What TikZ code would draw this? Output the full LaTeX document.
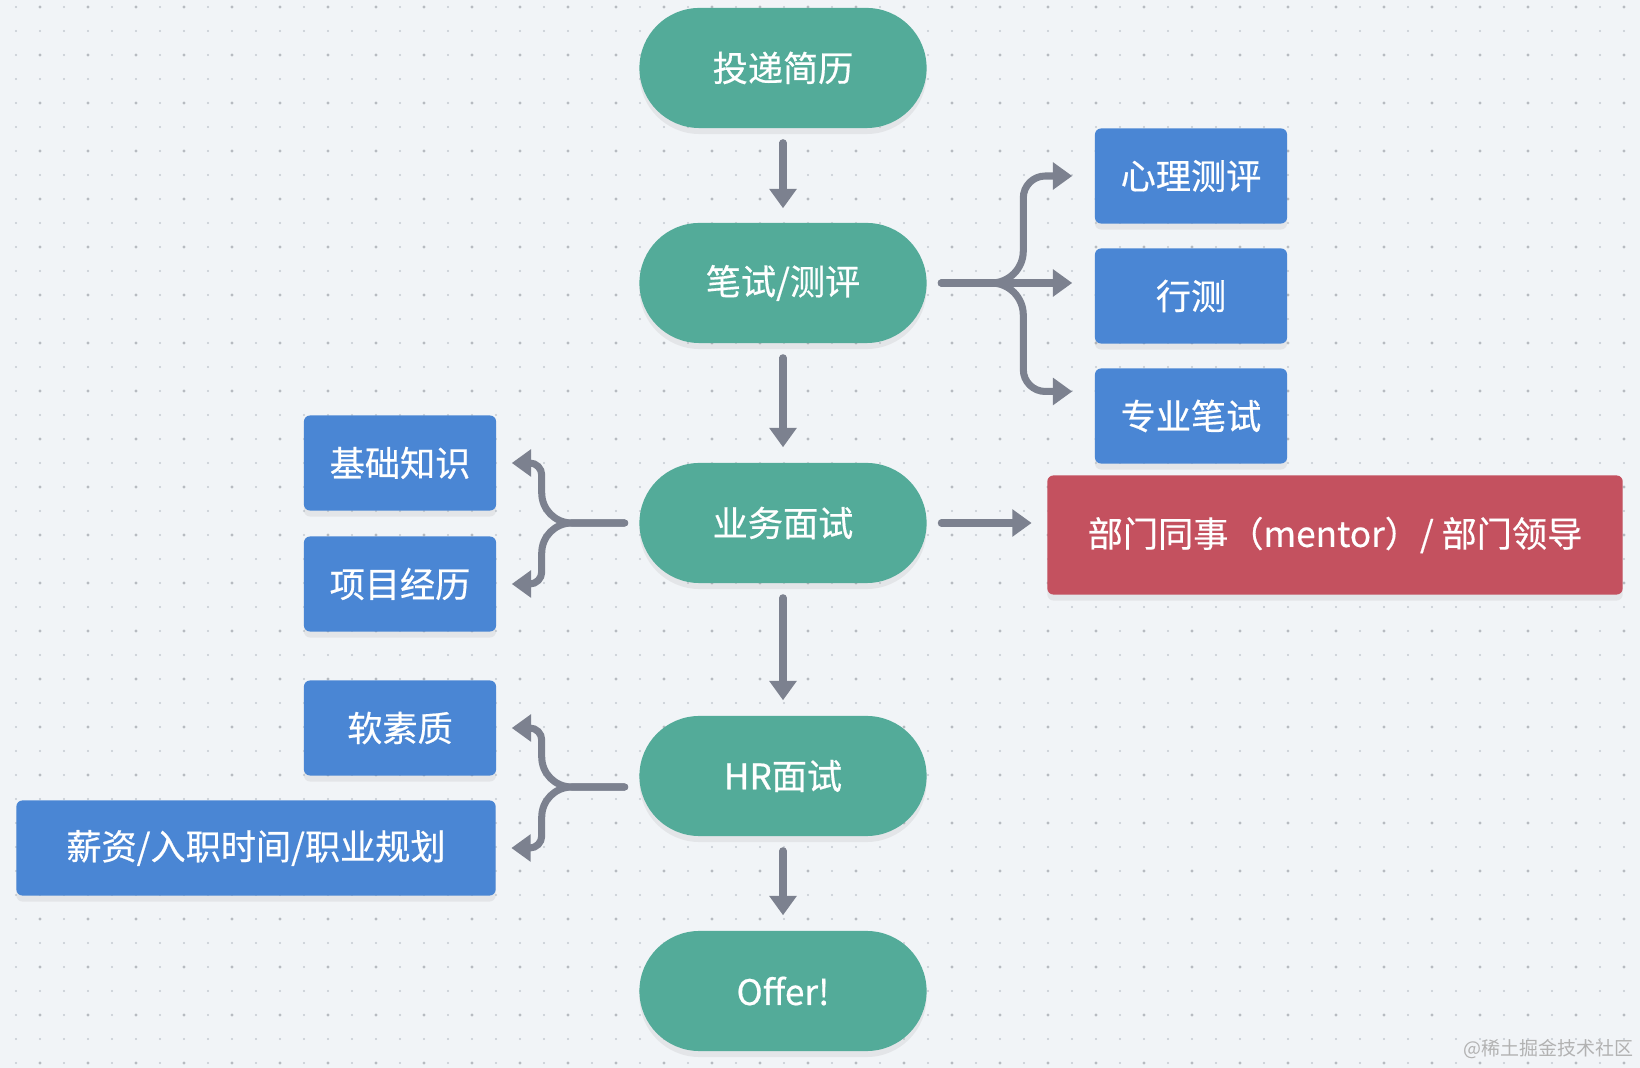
\documentclass[tikz,border=0pt]{standalone}
\usepackage{fontspec}
\usepackage{tikz}
\usetikzlibrary{arrows.meta,shadows}
\newfontfamily\cjk[FakeBold=0.5]{Noto Sans CJK SC}
\newfontfamily\cjkmark{Noto Sans CJK SC}
\definecolor{bgcol}{HTML}{F1F4F7}
\definecolor{dotcol}{HTML}{C5CAD1}
\definecolor{pillcol}{HTML}{53AB99}
\definecolor{boxcol}{HTML}{4A86D4}
\definecolor{redcol}{HTML}{C4515F}
\definecolor{arrcol}{HTML}{7C818F}

\begin{document}
\begin{tikzpicture}[x=0.01cm, y=-0.01cm,
    pill/.style={fill=pillcol, text=white, rounded corners=0.6cm, minimum width=2.87cm, minimum height=1.2cm, inner sep=0pt,
      drop shadow={opacity=0.12, shadow xshift=0pt, shadow yshift=-0.06cm}},
    box/.style={fill=boxcol, text=white, rounded corners=0.06cm, minimum width=1.92cm, minimum height=0.95cm, inner sep=0pt,
      drop shadow={opacity=0.12, shadow xshift=0pt, shadow yshift=-0.06cm}},
    arr/.style={draw=arrcol, line width=2pt, line cap=round, -{Triangle[width=7.5pt,length=5.5pt]}, shorten <=0.14cm},
    font=\cjk\fontsize{10}{12}\selectfont]
      \useasboundingbox (0,0) rectangle (1640,1068);
      \fill[bgcol] (0,0) rectangle (1640,1068);
      % dotted grid
      \foreach \x in {16,40,...,1636}
        \foreach \y in {7,31,...,1063}
          \fill[dotcol] (\x,\y) circle (0.3pt);
      \foreach \x in {40,88,...,1624}
        \foreach \y in {7,55,...,1063}
          \fill[dotcol!80!gray] (\x,\y) circle (0.45pt);
      % main steps
      \node[pill] (apply) at (783,68) {投递简历};
      \node[pill] (written) at (783,283) {笔试/测评};
      \node[pill] (biz) at (783,523) {业务面试};
      \node[pill] (hr) at (783,776) {HR面试};
      \node[pill] (offer) at (783,991) {Offer!};
      % written test parts
      \node[box] (psych) at (1191,176) {心理测评};
      \node[box] (xingce) at (1191,296) {行测};
      \node[box] (major) at (1191,416) {专业笔试};
      \node[box, fill=redcol, minimum width=5.75cm, minimum height=1.19cm] (dept) at (1335,535) {部门同事（mentor）/ 部门领导};
      % interview topics
      \node[box] (basics) at (400,463) {基础知识};
      \node[box] (proj) at (400,584) {项目经历};
      \node[box] (soft) at (400,728) {软素质};
      \node[box, minimum width=4.79cm] (salary) at (256,848) {薪资/入职时间/职业规划};
      \node[text=gray!60, anchor=east, inner sep=0pt, font=\cjkmark\fontsize{5.4}{6}\selectfont] (mark) at (1634,1049) {@稀土掘金技术社区};

      \path (apply) edge[arr, shorten >=0.14cm] (written);
      \path (written) edge[arr, shorten >=0.15cm] (biz);
      \path (biz) edge[arr, shorten >=0.15cm] (hr);
      \path (hr) edge[arr, shorten >=0.15cm] (offer);
      \path (biz.east) edge[arr, shorten >=0.15cm] (biz.east -| dept.west);
      \draw[arr, shorten >=0.22cm] (written.east) -- (written.east -| xingce.west);
      \draw[arr, shorten >=0.22cm] (written.east) [rounded corners=0.32cm] -- ++(96,0) [rounded corners=0.22cm] |- (psych.west);
      \draw[arr, shorten >=0.22cm] (written.east) [rounded corners=0.32cm] -- ++(96,0) [rounded corners=0.22cm] |- ([yshift=0.245cm]major.west);
      \draw[arr, shorten >=0.15cm] (biz.west) [rounded corners=0.3cm] -- ++(-97,0) [rounded corners=0.12cm] |- (basics.east);
      \draw[arr, shorten >=0.15cm] (biz.west) [rounded corners=0.3cm] -- ++(-97,0) [rounded corners=0.12cm] |- (proj.east);
      \draw[arr, shorten >=0.15cm] ([yshift=-0.11cm]hr.west) [rounded corners=0.3cm] -- ++(-97,0) [rounded corners=0.12cm] |- (soft.east);
      \draw[arr, shorten >=0.15cm] ([yshift=-0.11cm]hr.west) [rounded corners=0.3cm] -- ++(-97,0) [rounded corners=0.12cm] |- (salary.east);
    \end{tikzpicture}
\end{document}
